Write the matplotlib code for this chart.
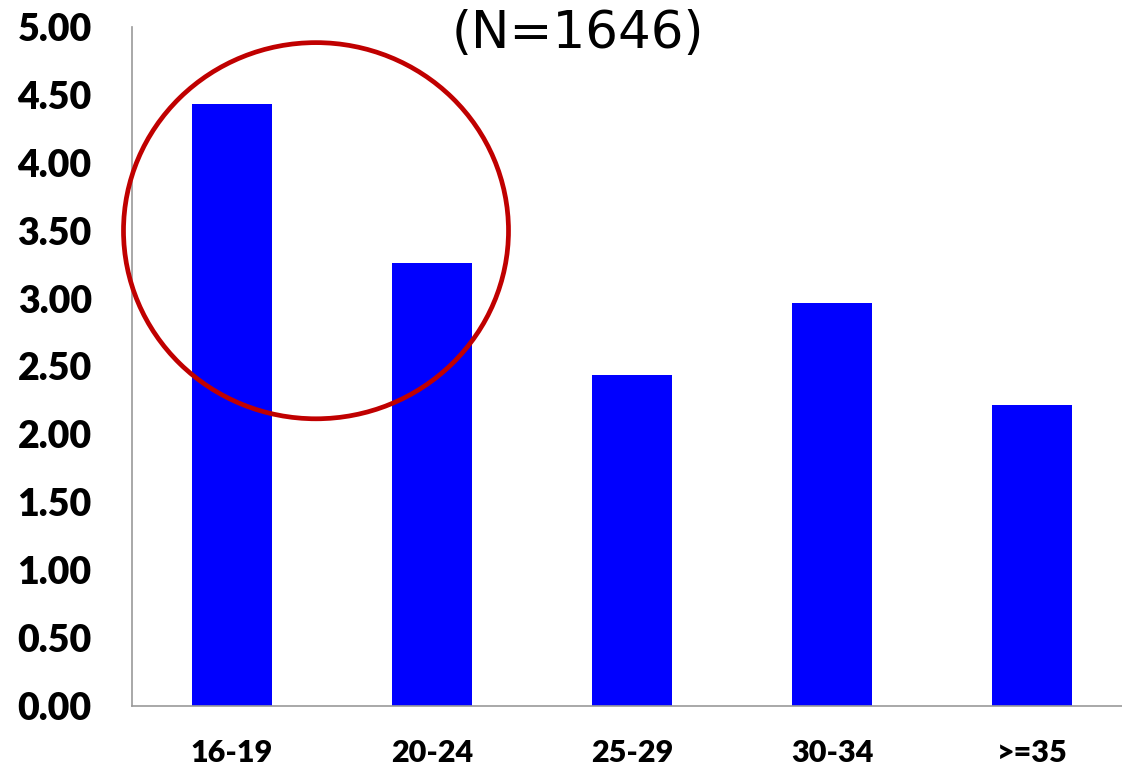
import matplotlib.pyplot as plt
from matplotlib.patches import Ellipse

categories = ['16-19', '20-24', '25-29', '30-34', '>=35']
values = [4.43, 3.26, 2.44, 2.97, 2.22]
yticks = [0.0, 0.5, 1.0, 1.5, 2.0, 2.5, 3.0, 3.5, 4.0, 4.5, 5.0]

fig = plt.figure(figsize=(11.22, 7.70), dpi=100)
ax = fig.add_axes([132 / 1122, 64 / 770, 1000 / 1122, 679 / 770])

x = range(len(categories))
ax.bar(x, values, width=0.4, color='#0000FF', zorder=2)

ax.set_xlim(-0.5, 4.5)
ax.set_ylim(0, 5)
ax.set_yticks(yticks)
ax.set_yticklabels(['%.2f' % v for v in yticks], fontsize=27, fontweight='heavy',
                   family=['Lato', 'DejaVu Sans'])
ax.set_xticks(list(x))
ax.set_xticklabels(categories, fontsize=22, fontweight='heavy',
                   family=['Lato', 'DejaVu Sans'])
ax.tick_params(axis='y', length=0, pad=29)
ax.tick_params(axis='x', length=0, pad=24)

for s in ['top', 'right']:
    ax.spines[s].set_visible(False)
for s in ['left', 'bottom']:
    ax.spines[s].set_color('#999999')
    ax.spines[s].set_linewidth(1.2)

# red circle highlight
ell = Ellipse((0.42, 3.5), 1.925, 2.77, fill=False, edgecolor='#C00000',
              linewidth=3.4, zorder=3, clip_on=False)
ax.add_patch(ell)

fig.text(578 / 1122, 1 - 48 / 770, '(N=1646)', fontsize=37, ha='center',
         va='baseline', family='DejaVu Sans')

fig.savefig('out.png', dpi=100)
